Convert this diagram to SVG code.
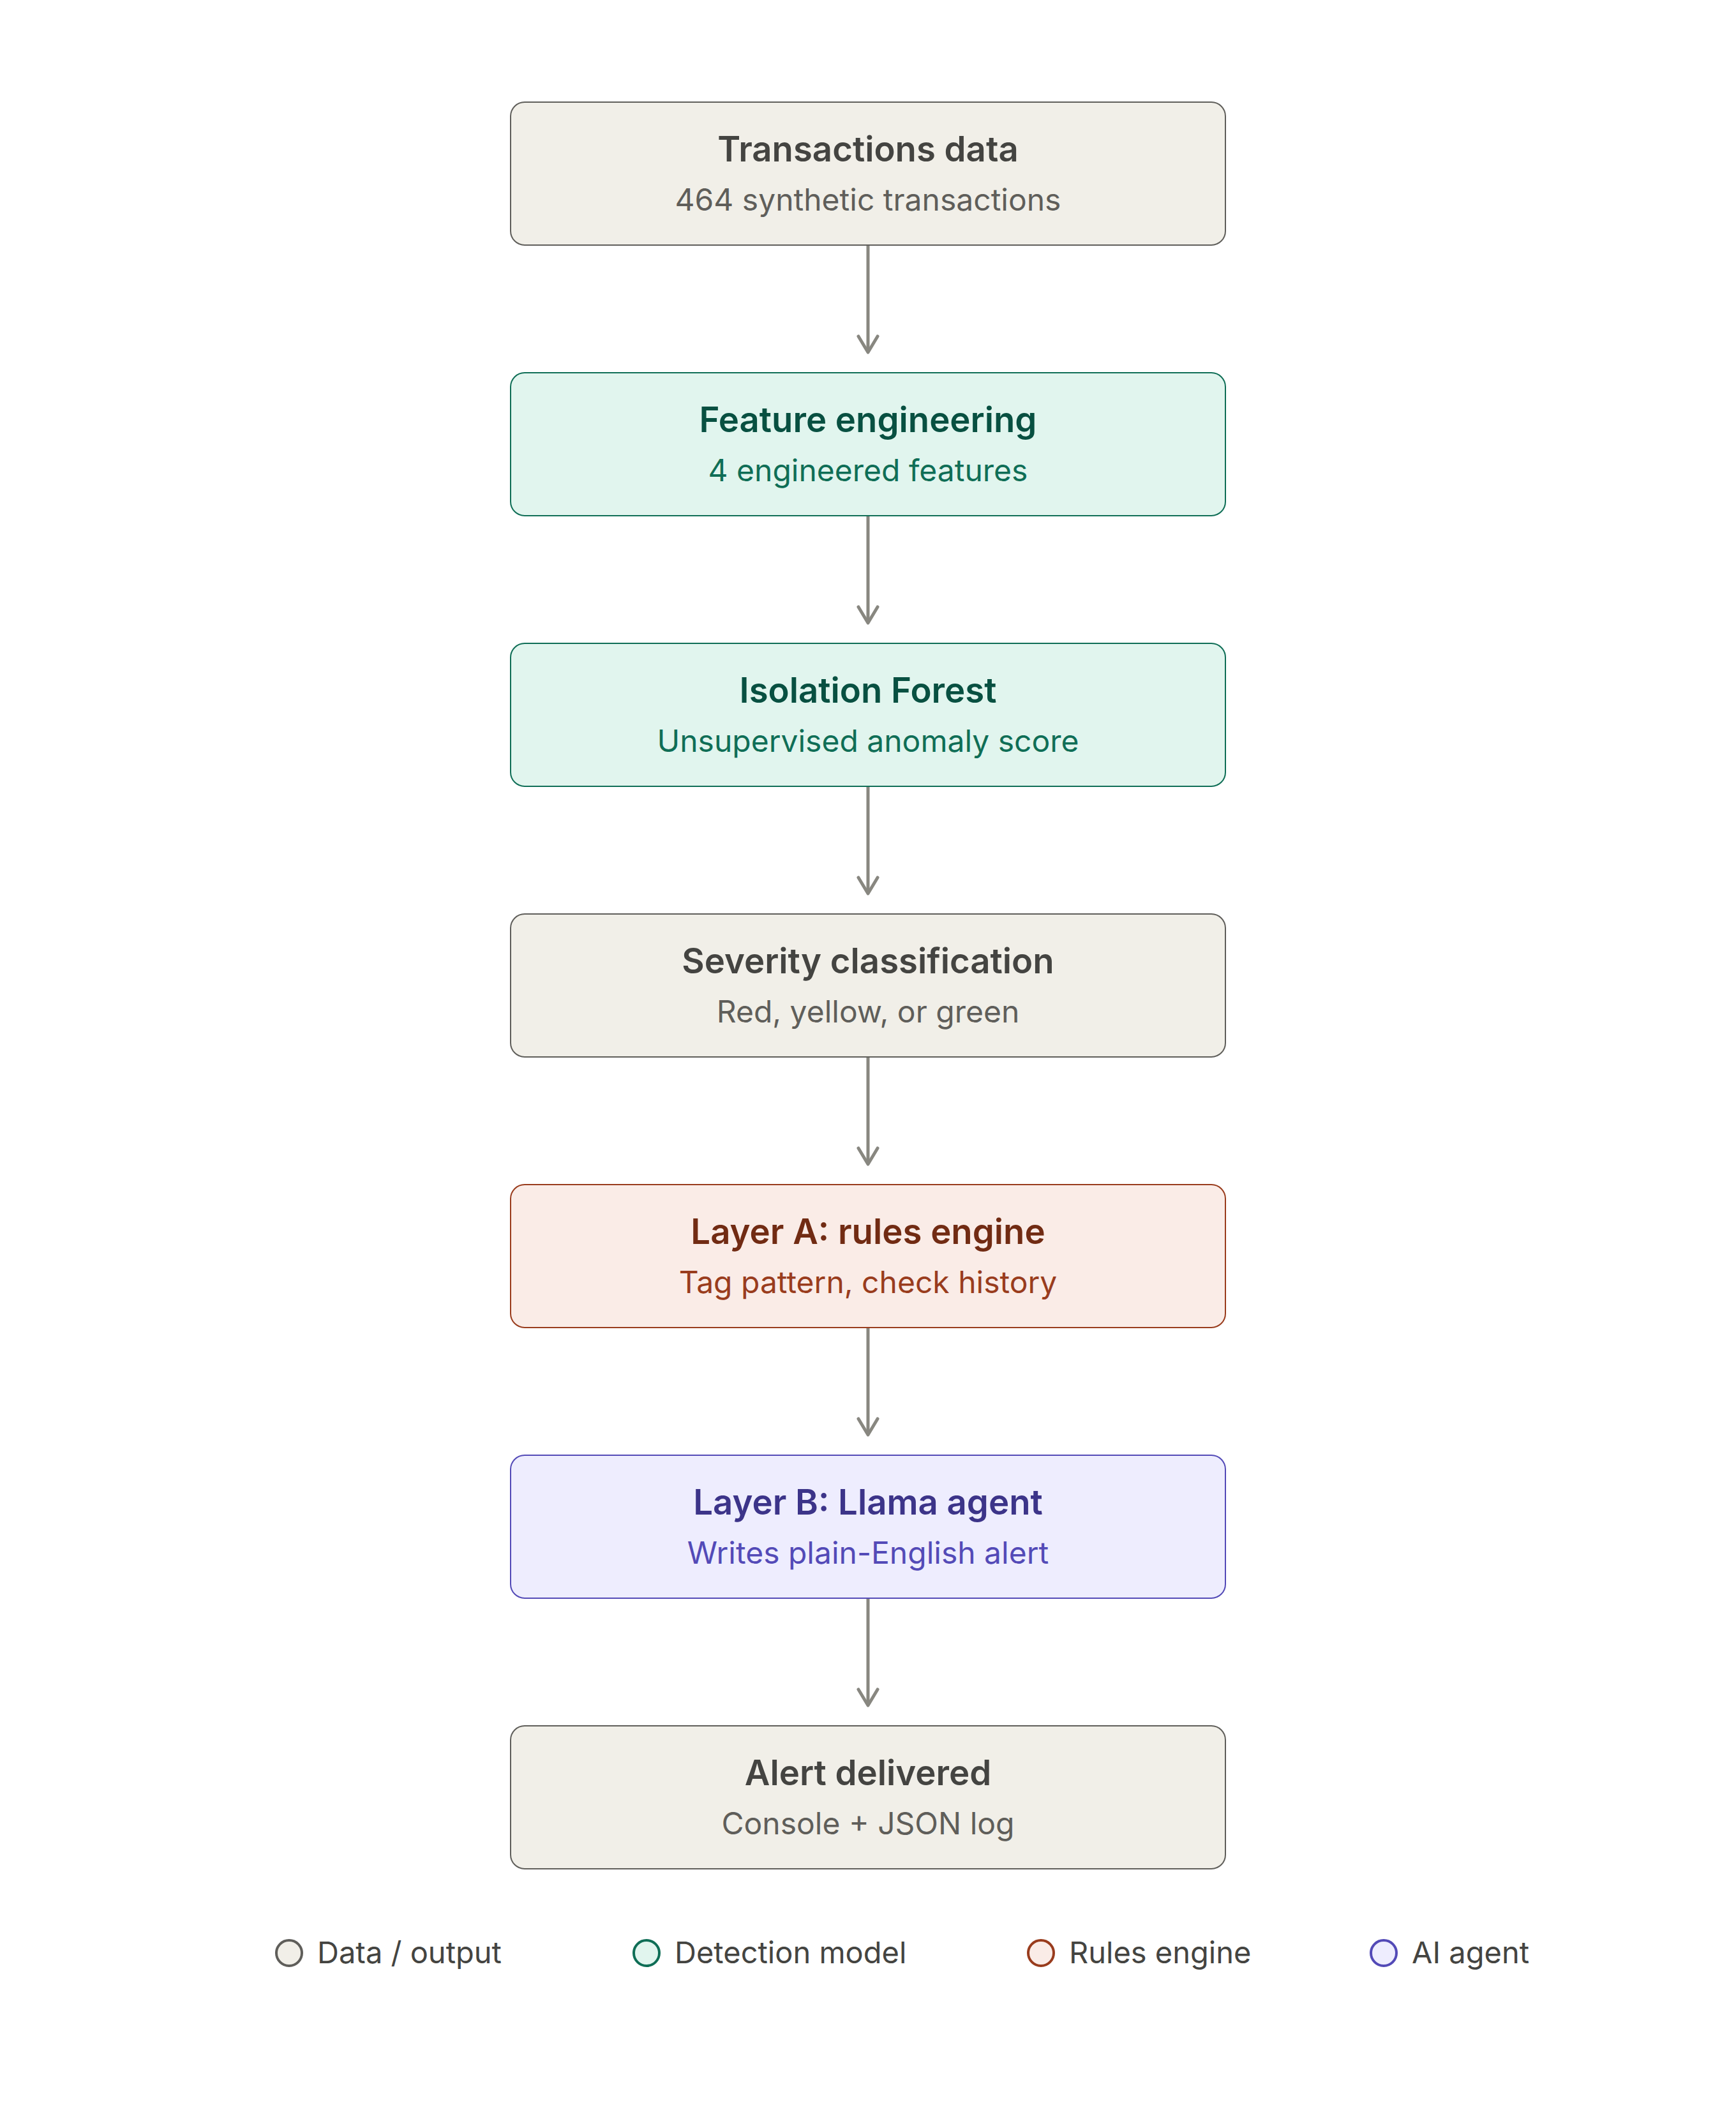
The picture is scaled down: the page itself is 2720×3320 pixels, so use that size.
<svg xmlns="http://www.w3.org/2000/svg" width="2720" height="3320" viewBox="0 0 2720 3320">
<defs>
<style>
.box{stroke-width:2}
.t{font-family:Inter,"Noto Sans",sans-serif;font-size:54.5px;font-weight:600;text-anchor:middle}
.s{font-family:Inter,"Noto Sans",sans-serif;font-size:48px;font-weight:400;text-anchor:middle}
.gray .box{fill:#f1efe8;stroke:#5f5e5a}
.gray .t{fill:#444441}
.gray .s{fill:#5f5e5a}
.green .box{fill:#e1f5ee;stroke:#0f6e56}
.green .t{fill:#085041}
.green .s{fill:#0f6e56}
.red .box{fill:#faece7;stroke:#993c1d}
.red .t{fill:#712b13}
.red .s{fill:#993c1d}
.purple .box{fill:#eeedfe;stroke:#534ab7}
.purple .t{fill:#3c3489}
.purple .s{fill:#534ab7}
.conn line{stroke:#888780;stroke-width:5}
.conn path{stroke:#888780;stroke-width:5;fill:none;stroke-linecap:round;stroke-linejoin:round}
.lg{font-family:Inter,"Noto Sans",sans-serif;font-size:47px;fill:#444441}
.dot{stroke-width:4}
</style>
</defs>
<rect width="2720" height="3320" fill="#ffffff"/>

<g id="connectors" class="conn">
<line x1="1360" y1="384" x2="1360" y2="552"/><path d="M1345 527 L1360 552 L1375 527"/>
<line x1="1360" y1="808" x2="1360" y2="976"/><path d="M1345 951 L1360 976 L1375 951"/>
<line x1="1360" y1="1232" x2="1360" y2="1400"/><path d="M1345 1375 L1360 1400 L1375 1375"/>
<line x1="1360" y1="1656" x2="1360" y2="1824"/><path d="M1345 1799 L1360 1824 L1375 1799"/>
<line x1="1360" y1="2080" x2="1360" y2="2248"/><path d="M1345 2223 L1360 2248 L1375 2223"/>
<line x1="1360" y1="2504" x2="1360" y2="2672"/><path d="M1345 2647 L1360 2672 L1375 2647"/>
</g>

<g id="n1" class="gray">
<rect class="box" x="800" y="160" width="1120" height="224" rx="22"/>
<text class="t" x="1360" y="253">Transactions data</text>
<text class="s" x="1360" y="330">464 synthetic transactions</text>
</g>
<g id="n2" class="green">
<rect class="box" x="800" y="584" width="1120" height="224" rx="22"/>
<text class="t" x="1360" y="677">Feature engineering</text>
<text class="s" x="1360" y="754">4 engineered features</text>
</g>
<g id="n3" class="green">
<rect class="box" x="800" y="1008" width="1120" height="224" rx="22"/>
<text class="t" x="1360" y="1101">Isolation Forest</text>
<text class="s" x="1360" y="1178">Unsupervised anomaly score</text>
</g>
<g id="n4" class="gray">
<rect class="box" x="800" y="1432" width="1120" height="224" rx="22"/>
<text class="t" x="1360" y="1525">Severity classification</text>
<text class="s" x="1360" y="1602">Red, yellow, or green</text>
</g>
<g id="n5" class="red">
<rect class="box" x="800" y="1856" width="1120" height="224" rx="22"/>
<text class="t" x="1360" y="1949">Layer A: rules engine</text>
<text class="s" x="1360" y="2026">Tag pattern, check history</text>
</g>
<g id="n6" class="purple">
<rect class="box" x="800" y="2280" width="1120" height="224" rx="22"/>
<text class="t" x="1360" y="2373">Layer B: Llama agent</text>
<text class="s" x="1360" y="2450">Writes plain-English alert</text>
</g>
<g id="n7" class="gray">
<rect class="box" x="800" y="2704" width="1120" height="224" rx="22"/>
<text class="t" x="1360" y="2797">Alert delivered</text>
<text class="s" x="1360" y="2874">Console + JSON log</text>
</g>

<g id="legend">
<circle class="dot" cx="453" cy="3060" r="20" fill="#f1efe8" stroke="#5f5e5a"/>
<text class="lg" x="497" y="3076">Data / output</text>
<circle class="dot" cx="1013" cy="3060" r="20" fill="#e1f5ee" stroke="#0f6e56"/>
<text class="lg" x="1057" y="3076">Detection model</text>
<circle class="dot" cx="1631" cy="3060" r="20" fill="#faece7" stroke="#993c1d"/>
<text class="lg" x="1675" y="3076">Rules engine</text>
<circle class="dot" cx="2168" cy="3060" r="20" fill="#eeedfe" stroke="#534ab7"/>
<text class="lg" x="2212" y="3076">AI agent</text>
</g>
</svg>
